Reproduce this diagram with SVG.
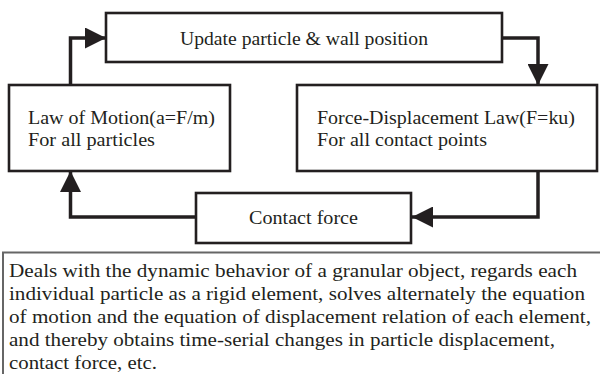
<svg xmlns="http://www.w3.org/2000/svg" width="600" height="374" viewBox="0 0 600 374">
<defs>
<style>
.box{fill:#fff;stroke:#231f20;stroke-width:2.6}
.note{fill:#fff;stroke:#666;stroke-width:2}
.t{font-family:"Liberation Serif","Times New Roman",serif;font-size:19px;fill:#231f20}
.n{font-family:"Liberation Serif","Times New Roman",serif;font-size:19.5px;fill:#231f20}
.c{fill:none;stroke:#231f20;stroke-width:3.5}
</style>
<marker id="a" viewBox="0 0 20 20" refX="20" refY="10" markerWidth="21" markerHeight="21" markerUnits="userSpaceOnUse" orient="auto">
<path d="M0,0 L20,10 L0,20 Z" fill="#231f20"/>
</marker>
</defs>
<g id="connectors">
<path class="c" d="M70.5,85 V38 H106" marker-end="url(#a)"/>
<path class="c" d="M502,38 H538 V85" marker-end="url(#a)"/>
<path class="c" d="M538,171 V217 H412" marker-end="url(#a)"/>
<path class="c" d="M196,217 H70.5 V171" marker-end="url(#a)"/>
</g>
<g id="update">
<rect class="box" x="106" y="13" width="396" height="49"/>
<text class="t" x="180" y="45" textLength="248" lengthAdjust="spacingAndGlyphs">Update particle &amp; wall position</text>
</g>
<g id="motion">
<rect class="box" x="9" y="85" width="221" height="86"/>
<text class="t" x="28" y="124" textLength="187" lengthAdjust="spacingAndGlyphs">Law of Motion(a=F/m)</text>
<text class="t" x="28" y="146" textLength="127" lengthAdjust="spacingAndGlyphs">For all particles</text>
</g>
<g id="force">
<rect class="box" x="297" y="85" width="300" height="86"/>
<text class="t" x="317" y="124" textLength="258" lengthAdjust="spacingAndGlyphs">Force-Displacement Law(F=ku)</text>
<text class="t" x="317" y="146" textLength="170" lengthAdjust="spacingAndGlyphs">For all contact points</text>
</g>
<g id="contact">
<rect class="box" x="196" y="193" width="215" height="50"/>
<text class="t" x="249" y="224" textLength="109" lengthAdjust="spacingAndGlyphs">Contact force</text>
</g>
<g id="note">
<rect class="note" x="3" y="252.5" width="600" height="130"/>
<text class="n" x="9" y="277" textLength="568" lengthAdjust="spacingAndGlyphs">Deals with the dynamic behavior of a granular object, regards each</text>
<text class="n" x="9" y="300" textLength="576" lengthAdjust="spacingAndGlyphs">individual particle as a rigid element, solves alternately the equation</text>
<text class="n" x="9" y="323" textLength="582" lengthAdjust="spacingAndGlyphs">of motion and the equation of displacement relation of each element,</text>
<text class="n" x="9" y="346" textLength="546" lengthAdjust="spacingAndGlyphs">and thereby obtains time-serial changes in particle displacement,</text>
<text class="n" x="9" y="369" textLength="148" lengthAdjust="spacingAndGlyphs">contact force, etc.</text>
</g>
</svg>
